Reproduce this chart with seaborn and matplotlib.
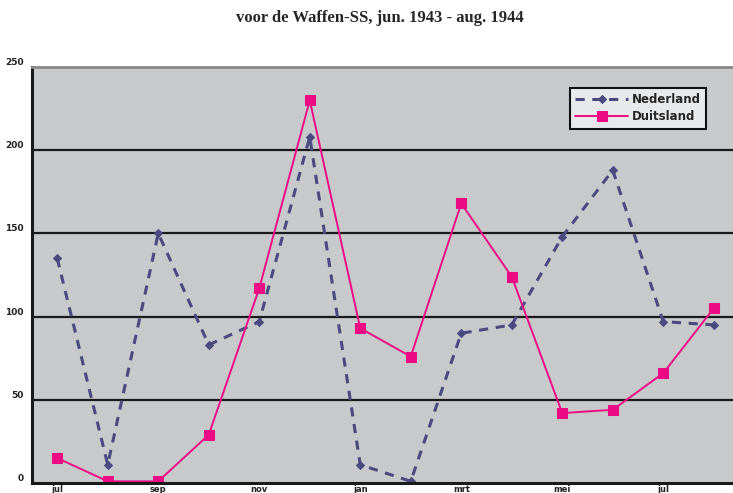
import numpy as np
import pandas as pd
import matplotlib
matplotlib.use('Agg')
import matplotlib.pyplot as plt
import seaborn as sns

# Data (monthly volunteers)
months = ['jul', 'aug', 'sep', 'okt', 'nov', 'dec', 'jan',
          'feb', 'mrt', 'apr', 'mei', 'jun', 'jul', 'aug']
nederland = [135, 11, 150, 83, 97, 208, 11, 1, 90, 95, 148, 188, 97, 95]
duitsland = [15, 1, 1, 29, 117, 230, 93, 76, 168, 124, 42, 44, 66, 105]
yticks = [0, 50, 100, 150, 200, 250]

df = pd.DataFrame({'idx': np.arange(len(months)),
                   'Nederland': nederland,
                   'Duitsland': duitsland})

sns.set_style('white')
plt.rcParams['font.family'] = ['DejaVu Sans']

fig = plt.figure(figsize=(7.33, 4.93), dpi=100)
ax = fig.add_axes([32 / 733, 10 / 493, 707 / 733, 416 / 493])
ax.set_facecolor('#c8c9cb')

sns.lineplot(data=df, x='idx', y='Nederland', ax=ax, color='#4a4a80',
             linestyle=(0, (3, 2.5)), linewidth=2.2, marker='D', markersize=4,
             markeredgecolor='#4a4a80', label='Nederland')
sns.lineplot(data=df, x='idx', y='Duitsland', ax=ax, color='#ec0b85',
             linewidth=1.4, marker='s', markersize=7,
             markeredgecolor='#ec0b85', label='Duitsland')

ax.set_xlim(-0.5, len(months) - 0.5)
ax.set_ylim(0, 250)
ax.set_xlabel('')
ax.set_ylabel('')

# horizontal gridlines
for v in yticks[1:-1]:
    ax.axhline(v, color='#1a1a1a', linewidth=1.6, zorder=0.5)

ax.set_yticks(yticks)
ax.set_yticklabels([str(v) for v in yticks], fontsize=6.5, fontweight='bold',
                   color='#222222', va='bottom')
ax.tick_params(axis='y', length=0, pad=6)

ax.set_xticks(np.arange(0, len(months), 2))
ax.set_xticklabels(months[::2], fontsize=6, fontweight='bold', color='#222222')
ax.set_xticks(np.arange(-0.5, len(months), 2), minor=True)
ax.tick_params(axis='x', which='major', length=0, pad=1.5)
ax.tick_params(axis='x', which='minor', length=4, width=1.2, direction='out',
               color='#222222')

for side in ['left', 'bottom']:
    ax.spines[side].set_color('#1a1a1a')
    ax.spines[side].set_linewidth(2.2)
ax.spines['top'].set_color('#8a8a8a')
ax.spines['top'].set_linewidth(2)
ax.spines['right'].set_visible(False)

leg = ax.legend(loc='upper left', bbox_to_anchor=(538 / 707, 1 - 21 / 416),
                frameon=True, fancybox=False, fontsize=8.5, handlelength=4.5,
                borderpad=0.45, labelspacing=0.35, handletextpad=0.3,
                borderaxespad=0)
leg.get_frame().set_facecolor('#e8e9eb')
leg.get_frame().set_edgecolor('#111111')
leg.get_frame().set_linewidth(1.5)
leg.get_frame().set_alpha(1)
for t in leg.get_texts():
    t.set_fontweight('bold')

fig.text(380 / 733, 1 - 18 / 493, 'voor de Waffen-SS, jun. 1943 - aug. 1944',
         ha='center', va='center', fontsize=12, fontweight='bold',
         family=['Liberation Serif', 'DejaVu Serif'])

fig.savefig('out.png', dpi=100)
